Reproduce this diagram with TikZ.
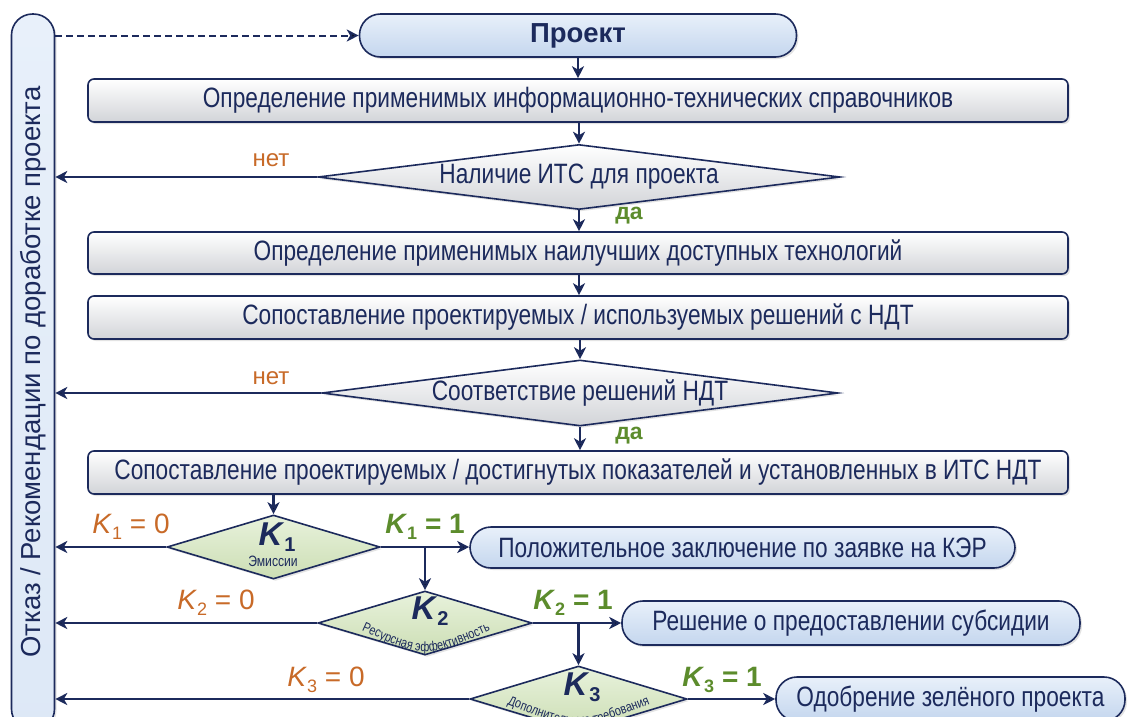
\documentclass[tikz,border=0pt]{standalone}
\usepackage{fontspec}
\setmainfont{Liberation Sans}
\newfontfamily\narrowf[FakeStretch=0.81]{Liberation Sans}
\usetikzlibrary{shapes.geometric,arrows.meta,decorations.text,shadows}
\definecolor{navy}{RGB}{28,42,92}
\definecolor{boxgray}{RGB}{210,212,216}
\definecolor{blueA}{RGB}{232,240,250}
\definecolor{blueB}{RGB}{196,214,238}
\definecolor{greenA}{RGB}{232,242,220}
\definecolor{greenB}{RGB}{204,222,180}
\definecolor{orangec}{RGB}{200,106,40}
\definecolor{greenc}{RGB}{92,140,44}
\newcommand{\Kbig}[1]{\textbf{\textit{K}}\raisebox{-0.35ex}{\fontsize{20}{20}\selectfont\textbf{#1}}}
\newcommand{\Ksmall}[2]{\textit{K}\raisebox{-0.4ex}{\fontsize{18}{18}\selectfont #1} = #2}
\newcommand{\Ksmallb}[2]{\textbf{\textit{K}}\raisebox{-0.4ex}{\fontsize{18}{18}\selectfont\textbf{#1}} \textbf{= #2}}
\tikzset{
  base/.style={draw=navy, line width=1.6pt, text=navy, inner sep=0pt,
    drop shadow={opacity=0.22, shadow xshift=2pt, shadow yshift=-2pt}},
  mainfont/.style={font=\narrowf\fontsize{28}{32}\selectfont},
  gbox/.style={base, mainfont, rounded corners=6pt, top color=white, bottom color=boxgray,
    minimum width=980pt, minimum height=43pt},
  term/.style={base, mainfont, rounded corners=21pt, top color=blueA, bottom color=blueB,
    minimum height=43pt},
  dec/.style={base, mainfont, diamond, shape aspect=8, top color=white, bottom color=boxgray},
  kdec/.style={base, diamond, shape aspect=3.3, top color=greenA, bottom color=greenB},
  conn/.style={draw=navy, line width=2.2pt, -{Stealth[length=12pt,width=12pt,inset=3.5pt]}},
  nolab/.style={text=orangec, font=\fontsize{24}{28}\selectfont},
  yeslab/.style={text=greenc, font=\bfseries\fontsize{23}{26}\selectfont},
  knolab/.style={text=orangec, font=\fontsize{28}{32}\selectfont},
  kyeslab/.style={text=greenc, font=\fontsize{28}{32}\selectfont},
  klab/.style={text=navy, font=\fontsize{33}{36}\selectfont},
  ksub/.style={text=navy, font=\narrowf\fontsize{15}{17}\selectfont},
}
\begin{document}
\begin{tikzpicture}[x=1pt,y=-1pt]
\useasboundingbox (0,0) rectangle (1135,716);
\clip (0,0) rectangle (1135,716);
\fill[white] (0,0) rectangle (1135,716);

% left bar
\node[base, rounded corners=21pt, top color=blueA, bottom color=blueA!70!blueB,
  minimum width=43pt, minimum height=716pt, font=\fontsize{27.5}{30}\selectfont]
  (bar) at (33,372) {\raisebox{0pt}{\rotatebox{90}{Отказ / Рекомендации по доработке проекта}}};

% main column
\node[term, minimum width=437pt, font=\bfseries\fontsize{27.5}{30}\selectfont] (proj) at (578,35.5) {Проект};
\node[gbox] (b1) at (578,100.5) {Определение применимых информационно-технических справочников};
\node[dec, minimum width=522pt, minimum height=65pt] (d1) at (579,177) {Наличие ИТС для проекта};
\node[gbox, minimum height=42pt] (b2) at (578,253) {Определение применимых наилучших доступных технологий};
\node[gbox] (b3) at (578,317.5) {Сопоставление проектируемых / используемых решений с НДТ};
\node[dec, minimum width=516pt, minimum height=66pt] (d2) at (580,393) {Соответствие решений НДТ};
\node[gbox] (b4) at (578,472.5) {Сопоставление проектируемых / достигнутых показателей и установленных в ИТС НДТ};

% K diamonds
\node[kdec, minimum width=213pt, minimum height=64pt] (k1) at (273.5,547) {};
\node[klab] (k1t) at (277,537) {\Kbig{1}};
\node[ksub] (k1s) at (273,561) {Эмиссии};
\node[kdec, minimum width=214pt, minimum height=64pt] (k2) at (425,623) {};
\node[klab] (k2t) at (430,611) {\Kbig{2}};
\node[kdec, minimum width=217pt, minimum height=66pt] (k3) at (578.5,699) {};
\node[klab] (k3t) at (582,687) {\Kbig{3}};
\path[decorate, decoration={text along path, text align=center, text color=navy,
  text={|\narrowf\fontsize{13.5}{15}\selectfont|Ресурсная эффективность}}]
  (352,626) .. controls (426,660) .. (500,626);
\path[decorate, decoration={text along path, text align=center, text color=navy,
  text={|\narrowf\fontsize{13.5}{15}\selectfont|Дополнительные требования}}]
  (497,700) .. controls (578,733) .. (660,700);

% outcome terminals
\node[term, minimum width=545pt, minimum height=41pt] (p1) at (742.5,547.5) {Положительное заключение по заявке на КЭР};
\node[term, minimum width=458pt, minimum height=44pt] (p2) at (851,623) {Решение о предоставлении субсидии};
\node[term, minimum width=349pt, minimum height=44pt] (p3) at (950.5,699) {Одобрение зелёного проекта};

% connectors
\draw[conn, dash pattern=on 7pt off 4pt, line width=2pt] (bar.east |- proj.west) -- (proj.west);
\draw[conn] (proj.south) -- (b1.north -| proj.south);
\draw[conn] (b1.south -| d1.north) -- (d1.north);
\draw[conn] (d1.south) -- (b2.north -| d1.south);
\draw[conn] (b2.south -| d1.south) -- (b3.north -| d1.south);
\draw[conn] (b3.south -| d2.north) -- (d2.north);
\draw[conn] (d2.south) -- (b4.north -| d2.south);
\draw[conn] (b4.south -| k1.north) -- (k1.north);
\draw[conn] (d1.west) -- (bar.east |- d1.west);
\draw[conn] (d2.west) -- (bar.east |- d2.west);
\draw[conn] (k1.west) -- (bar.east |- k1.west);
\draw[conn] (k2.west) -- (bar.east |- k2.west);
\draw[conn] (k3.west) -- (bar.east |- k3.west);
\draw[conn] (k1.east) -- (p1.west |- k1.east);
\draw[conn] (k1.east -| k2.north) -- (k2.north);
\draw[conn] (k2.east) -- (p2.west |- k2.east);
\draw[conn] (k2.east -| k3.north) -- (k3.north);
\draw[conn] (k3.east) -- (p3.west |- k3.east);

% labels
\node[nolab] (n1) at (271,160) {нет};
\node[nolab] (n2) at (271,378) {нет};
\node[yeslab] (y1) at (629,216) {да};
\node[yeslab] (y2) at (629,436) {да};
\node[knolab] (l10) at (131,527) {\Ksmall{1}{0}};
\node[kyeslab] (l11) at (425,527) {\Ksmallb{1}{1}};
\node[knolab] (l20) at (216,603) {\Ksmall{2}{0}};
\node[kyeslab] (l21) at (573,603) {\Ksmallb{2}{1}};
\node[knolab] (l30) at (326,680) {\Ksmall{3}{0}};
\node[kyeslab] (l31) at (722,680) {\Ksmallb{3}{1}};
\end{tikzpicture}
\end{document}
